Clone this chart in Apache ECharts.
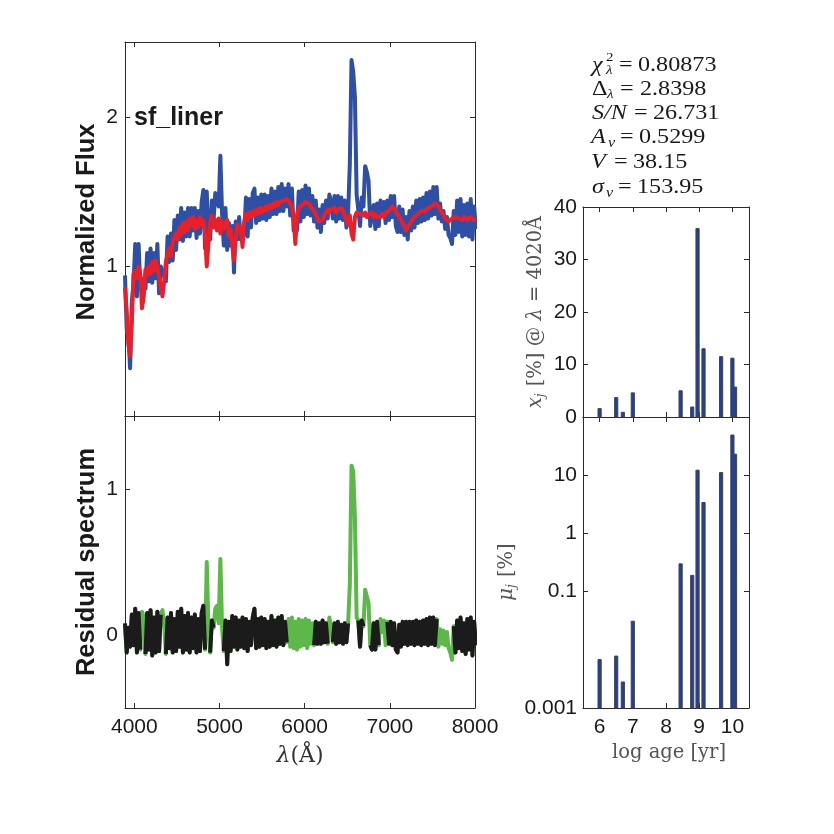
<!DOCTYPE html>
<html><head><meta charset="utf-8">
<script src="https://cdn.jsdelivr.net/npm/echarts@6.0.0/dist/echarts.min.js"></script>
<style>html,body{margin:0;padding:0;background:#fff}#c{width:834px;height:834px}</style>
</head><body><div id="c"></div>
<script>
// ---------------- DATA ----------------
const wave = [
3890,3910,3930,3950,3970,3990,4010,4030,4050,4070,
4090,4110,4130,4150,4170,4190,4210,4230,4250,4270,
4290,4310,4330,4350,4370,4390,4410,4430,4450,4470,
4490,4510,4530,4550,4570,4590,4610,4630,4650,4670,
4690,4710,4730,4750,4770,4790,4810,4830,4850,4870,
4890,4910,4930,4950,4970,4990,5010,5030,5050,5070,
5090,5110,5130,5150,5170,5190,5210,5230,5250,5270,
5290,5310,5330,5350,5370,5390,5410,5430,5450,5470,
5490,5510,5530,5550,5570,5590,5610,5630,5650,5670,
5690,5710,5730,5750,5770,5790,5810,5830,5850,5870,
5890,5910,5930,5950,5970,5990,6010,6030,6050,6070,
6090,6110,6130,6150,6170,6190,6210,6230,6250,6270,
6290,6310,6330,6350,6370,6390,6410,6430,6450,6470,
6490,6510,6530,6550,6570,6590,6610,6630,6650,6670,
6690,6710,6730,6750,6770,6790,6810,6830,6850,6870,
6890,6910,6930,6950,6970,6990,7010,7030,7050,7070,
7090,7110,7130,7150,7170,7190,7210,7230,7250,7270,
7290,7310,7330,7350,7370,7390,7410,7430,7450,7470,
7490,7510,7530,7550,7570,7590,7610,7630,7650,7670,
7690,7710,7730,7750,7770,7790,7810,7830,7850,7870,
7890,7910,7930,7950,7970,7990,8010];
// synthetic (model) spectrum, red
const modelFlux = [
0.86,0.70,0.48,0.40,0.62,0.95,0.97,0.92,1.00,0.95,
0.72,0.80,0.98,0.94,1.00,0.95,1.03,0.97,1.04,0.99,
0.93,0.86,0.80,0.90,1.03,1.08,1.12,1.07,1.16,1.20,
1.22,1.18,1.26,1.21,1.29,1.23,1.30,1.24,1.32,1.27,
1.33,1.25,1.31,1.26,1.33,1.28,1.31,1.22,1.00,1.15,
1.30,1.34,1.26,1.31,1.24,1.32,1.22,1.30,1.25,1.29,
1.31,1.20,1.25,1.14,1.04,1.18,1.28,1.23,1.26,1.13,
1.30,1.35,1.31,1.36,1.33,1.37,1.34,1.38,1.35,1.39,
1.36,1.39,1.37,1.40,1.38,1.41,1.39,1.42,1.40,1.43,
1.41,1.43,1.42,1.44,1.43,1.45,1.44,1.42,1.40,1.33,
1.15,1.34,1.39,1.38,1.41,1.40,1.43,1.44,1.42,1.40,
1.39,1.37,1.35,1.32,1.30,1.29,1.31,1.34,1.36,1.38,
1.36,1.38,1.37,1.39,1.36,1.38,1.37,1.39,1.37,1.36,
1.31,1.28,1.34,1.22,1.18,1.33,1.36,1.37,1.35,1.36,
1.34,1.36,1.33,1.35,1.34,1.36,1.33,1.35,1.33,1.34,
1.33,1.35,1.33,1.36,1.35,1.37,1.38,1.40,1.39,1.37,
1.35,1.33,1.31,1.29,1.27,1.24,1.25,1.28,1.30,1.31,
1.33,1.34,1.35,1.36,1.37,1.36,1.37,1.38,1.39,1.38,
1.40,1.41,1.42,1.42,1.40,1.38,1.36,1.34,1.32,1.31,
1.30,1.31,1.32,1.31,1.33,1.34,1.32,1.33,1.31,1.33,
1.34,1.31,1.30,1.33,1.32,1.31,1.32];
// residual spectrum (observed - model)
const residual = [
0.08,-0.12,0.05,-0.08,0.14,-0.07,0.18,-0.12,0.15,-0.10,
0.16,0.12,-0.13,0.15,-0.10,0.17,-0.14,0.12,-0.12,0.16,
-0.11,0.14,0.17,0.08,-0.13,0.12,-0.09,0.15,-0.12,0.11,
-0.11,0.16,-0.08,0.18,-0.12,0.13,-0.10,0.15,-0.12,0.12,
-0.09,0.14,-0.12,0.11,-0.11,0.15,0.20,-0.10,0.50,0.05,
-0.12,0.10,0.05,0.18,0.20,0.08,0.52,0.05,-0.11,0.10,
-0.20,0.09,-0.11,0.13,-0.08,0.12,-0.10,0.10,-0.08,0.12,
-0.09,0.11,-0.11,0.09,-0.07,0.12,0.18,-0.09,0.11,-0.08,
0.12,-0.07,0.11,-0.09,0.09,-0.08,0.13,-0.07,0.10,-0.08,
0.12,-0.06,0.13,-0.07,0.09,-0.05,0.11,-0.08,0.12,-0.09,
0.09,-0.10,0.11,-0.08,0.10,-0.07,0.11,-0.09,0.10,-0.06,
0.08,-0.07,0.09,-0.06,0.08,-0.06,0.10,-0.05,0.08,-0.06,
0.12,0.05,-0.05,0.08,-0.06,0.09,-0.05,0.07,-0.06,0.08,
-0.05,0.08,0.34,1.16,1.12,0.80,0.12,0.10,-0.08,0.10,
0.06,0.31,0.30,0.22,-0.07,-0.10,0.08,-0.10,0.09,-0.07,
0.11,0.02,0.10,-0.07,0.09,-0.06,0.09,-0.07,0.08,-0.10,
-0.12,0.07,-0.08,0.09,-0.06,0.09,-0.07,0.09,-0.06,0.09,
-0.07,0.10,-0.06,0.09,-0.07,0.10,-0.06,0.11,-0.07,0.12,
-0.06,0.12,-0.07,0.11,-0.08,0.04,-0.06,0.03,-0.07,0.02,
-0.09,-0.12,-0.17,0.06,-0.12,0.10,-0.09,0.12,-0.11,0.08,
-0.13,0.11,-0.10,0.12,-0.14,0.09,-0.07];
// masked wavelength windows (drawn green)
const maskRanges = [[4085,4115],[4325,4355],[4840,4880],[4940,5035],[5800,6095],[6280,6320],[6520,6620],[6700,6760],[6880,6960],[7565,7740]];

const logAge    = [6.0, 6.5, 6.7, 7.0, 8.44, 8.79, 8.95, 9.13, 9.66, 10.0, 10.08];
const lightFrac = [1.6, 3.7, 0.9, 4.6, 5.0, 1.9, 35.9, 13.0, 11.5, 11.2, 5.7];
const massFrac  = [0.0068, 0.0078, 0.0028, 0.031, 0.30, 0.19, 12.2, 3.4, 11.1, 49, 23];

const waveTicks  = [4000, 5000, 6000, 7000, 8000];
const fluxTicks  = [1, 2];
const residTicks = [0, 1];
const ageTicks   = [6, 7, 8, 9, 10];
const lightTicks = [0, 10, 20, 30, 40];
const massTicks  = [0.001, 0.1, 1, 10];

const statValues = ['0.80873', '2.8398', '26.731', '0.5299', '38.15', '153.95'];
const objName = 'sf_liner';

// ---------------- BUILD ----------------
const SANS = "'Liberation Sans', Arial, Helvetica, sans-serif";
const SERIF = "'Liberation Serif', 'Times New Roman', serif";
const DSERIF = "'DejaVu Serif', serif";
const AX = '#2a2a2a';

const isMasked = w => maskRanges.some(r => w >= r[0] && w <= r[1]);
const obsData = wave.map((w, i) => [w, +(modelFlux[i] + residual[i]).toFixed(3)]);
const modelData = wave.map((w, i) => [w, modelFlux[i]]);
const residAll = wave.map((w, i) => [w, residual[i]]);
const residGood = wave.map((w, i) => [w, isMasked(w) ? '-' : residual[i]]);

function axis(gridIndex, position, o, ticks, labels, labelMargin) {
  const a = {
    gridIndex, position, type: 'value',
    axisLine: {show: true, onZero: false, lineStyle: {color: AX, width: 1}},
    axisTick: {show: true, inside: true, length: 5, customValues: ticks, lineStyle: {color: AX, width: 1}},
    splitLine: {show: false},
    axisLabel: labels ? {show: true, customValues: ticks, margin: labelMargin, color: '#1a1a1a',
      fontFamily: SANS, fontSize: 21, formatter: v => String(v)} : {show: false}
  };
  return Object.assign(a, o);
}

const W = {min: 3890, max: 8000};
const A = {min: 5.5, max: 10.5};

function barRender(baseVal) {
  return function (params, api) {
    const top = api.coord([api.value(0), api.value(1)]);
    const bot = api.coord([api.value(0), baseVal]);
    const w = 3.2;
    return {type: 'rect',
      shape: {x: top[0] - w / 2, y: top[1], width: w, height: bot[1] - top[1]},
      style: {fill: '#233f98', stroke: '#40444f', lineWidth: 1}};
  };
}

const graphic = [];
const SX = 1.15;
function txt(x, y, text, size, opts) {
  graphic.push({type: 'text', x, y, scaleX: SX, silent: true,
    style: Object.assign({text, fontSize: size, fontFamily: SERIF, fill: '#1a1a1a',
      align: 'left', verticalAlign: 'middle'}, opts || {})});
}
// statistics block
const ly = [65, 89, 113, 137, 162, 187];
const IT = {fontStyle: 'italic'};
txt(592, ly[0], 'χ', 21, IT);
txt(606, ly[0] - 7, '2', 13);
txt(606, ly[0] + 6, 'λ', 13, IT);
txt(619, ly[0], '=', 21);
txt(638, ly[0], statValues[0], 21);
txt(592, ly[1], 'Δ', 21);
txt(607, ly[1] + 6, 'λ', 13, IT);
txt(620, ly[1], '=', 21);
txt(640, ly[1], statValues[1], 21);
txt(592, ly[2], 'S/N', 21, IT);
txt(634, ly[2], '=', 21);
txt(653, ly[2], statValues[2], 21);
txt(591, ly[3], 'A', 21, IT);
txt(608, ly[3] + 6, 'v', 14, IT);
txt(620, ly[3], '=', 21);
txt(639, ly[3], statValues[3], 21);
txt(591, ly[4], 'V', 21, IT);
txt(614, ly[4], '=', 21);
txt(633, ly[4], statValues[4], 21);
txt(592, ly[5], 'σ', 21, IT);
txt(606, ly[5] + 6, 'v', 14, IT);
txt(618, ly[5], '=', 21);
txt(637, ly[5], statValues[5], 21);

// object name
graphic.push({type: 'text', x: 134, y: 118, silent: true,
  style: {text: objName, fontSize: 25, fontFamily: SANS, fontWeight: 'bold', fill: '#1a1a1a', align: 'left', verticalAlign: 'middle'}});
// left y labels
graphic.push({type: 'text', x: 87, y: 222, rotation: Math.PI / 2, silent: true,
  style: {text: 'Normalized Flux', fontFamily: SANS, fontWeight: 'bold', fontSize: 25.5, fill: '#1a1a1a', align: 'center', verticalAlign: 'middle'}});
graphic.push({type: 'text', x: 87, y: 562, rotation: Math.PI / 2, silent: true,
  style: {text: 'Residual spectrum', fontFamily: SANS, fontWeight: 'bold', fontSize: 25.5, fill: '#1a1a1a', align: 'center', verticalAlign: 'middle'}});
// x labels
graphic.push({type: 'text', x: 300, y: 756, silent: true,
  style: {text: '{i|λ}(Å)', fontFamily: DSERIF, fontSize: 22, fill: '#333', align: 'center', verticalAlign: 'middle',
    rich: {i: {fontStyle: 'italic', fontFamily: DSERIF, fontSize: 22, fill: '#333'}}}});
graphic.push({type: 'text', x: 669, y: 753, silent: true,
  style: {text: 'log age [yr]', fontFamily: DSERIF, fontSize: 19.5, fill: '#555', align: 'center', verticalAlign: 'middle'}});
// right y labels
graphic.push({type: 'text', x: 536, y: 312, rotation: Math.PI / 2, silent: true,
  style: {text: '{i|x}{s|j} [%] @ {i|λ} = 4020Å', fontFamily: DSERIF, fontSize: 19.5, fill: '#555', align: 'center', verticalAlign: 'middle',
    rich: {i: {fontStyle: 'italic', fontFamily: DSERIF, fontSize: 19.5, fill: '#555'},
           s: {fontStyle: 'italic', fontFamily: DSERIF, fontSize: 12, fill: '#555', padding: [10, 1, 0, 0]}}}});
graphic.push({type: 'text', x: 507, y: 572, rotation: Math.PI / 2, silent: true,
  style: {text: '{i|μ}{s|j} [%]', fontFamily: DSERIF, fontSize: 19.5, fill: '#555', align: 'center', verticalAlign: 'middle',
    rich: {i: {fontStyle: 'italic', fontFamily: DSERIF, fontSize: 19.5, fill: '#555'},
           s: {fontStyle: 'italic', fontFamily: DSERIF, fontSize: 12, fill: '#555', padding: [10, 1, 0, 0]}}}});

const option = {
  animation: false,
  backgroundColor: '#fff',
  grid: [
    {left: 125, top: 42, width: 350, height: 374},
    {left: 125, top: 416, width: 350, height: 292},
    {left: 583, top: 207, width: 166, height: 210},
    {left: 583, top: 417, width: 166, height: 291}
  ],
  xAxis: [
    axis(0, 'bottom', W, waveTicks, false),
    axis(0, 'top', W, waveTicks, false),
    axis(1, 'bottom', W, waveTicks, true, 9),
    axis(1, 'top', W, waveTicks, false),
    axis(2, 'bottom', A, ageTicks, false),
    axis(2, 'top', A, ageTicks, false),
    axis(3, 'bottom', A, ageTicks, true, 9),
    axis(3, 'top', A, ageTicks, false)
  ],
  yAxis: [
    axis(0, 'left', {min: 0, max: 2.5}, fluxTicks, true, 7),
    axis(0, 'right', {min: 0, max: 2.5}, fluxTicks, false),
    axis(1, 'left', {min: -0.5, max: 1.5}, residTicks, true, 7),
    axis(1, 'right', {min: -0.5, max: 1.5}, residTicks, false),
    axis(2, 'left', {min: 0, max: 40}, lightTicks, true, 6),
    axis(2, 'right', {min: 0, max: 40}, lightTicks, false),
    axis(3, 'left', {type: 'log', min: 0.001, max: 100, logBase: 10}, massTicks, true, 6),
    axis(3, 'right', {type: 'log', min: 0.001, max: 100, logBase: 10}, massTicks, false)
  ],
  series: [
    {type: 'line', name: 'observed', xAxisIndex: 0, yAxisIndex: 0, data: obsData, showSymbol: false,
      lineStyle: {color: '#2f4ea5', width: 4, join: 'round'}, clip: true},
    {type: 'line', name: 'model', xAxisIndex: 0, yAxisIndex: 0, data: modelData, showSymbol: false,
      lineStyle: {color: '#e8202a', width: 4, join: 'round'}, clip: true},
    {type: 'line', name: 'masked', xAxisIndex: 2, yAxisIndex: 2, data: residAll, showSymbol: false,
      lineStyle: {color: '#5cb848', width: 4, join: 'round'}, clip: true},
    {type: 'line', name: 'residual', xAxisIndex: 2, yAxisIndex: 2, data: residGood, showSymbol: false,
      connectNulls: false, lineStyle: {color: '#1b1b1b', width: 4, join: 'round'}, clip: true},
    {type: 'custom', name: 'x_j', xAxisIndex: 4, yAxisIndex: 4, renderItem: barRender(0),
      data: logAge.map((a, i) => [a, lightFrac[i]]), encode: {x: 0, y: 1}},
    {type: 'custom', name: 'mu_j', xAxisIndex: 6, yAxisIndex: 6, renderItem: barRender(0.001),
      data: logAge.map((a, i) => [a, massFrac[i]]), encode: {x: 0, y: 1}}
  ],
  graphic
};
const chart = echarts.init(document.getElementById('c'), null, {renderer: 'canvas'});
chart.setOption(option);
</script>
</body></html>
